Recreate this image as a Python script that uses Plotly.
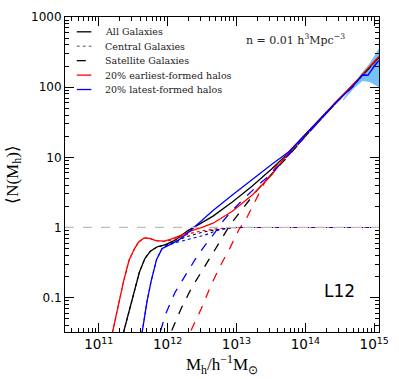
import plotly.graph_objects as go

# log10(M_h) sample points and <N(M_h)>
lgm_all = [11.36, 11.47, 11.59, 11.67, 11.75, 11.85, 11.97, 12.11, 12.3, 12.45, 12.66,
           12.94, 13.23, 13.51, 13.76, 14.0, 14.44, 14.77, 15.07]
n_all = [0.032, 0.08, 0.23, 0.36, 0.46, 0.53, 0.57, 0.66, 0.91, 1.1, 1.45,
         2.3, 3.9, 6.8, 11.6, 21, 60, 128, 265]

lgm_cen = [11.36, 11.47, 11.59, 11.67, 11.75, 11.85, 11.97, 12.11, 12.26, 12.4, 12.54,
           12.7, 12.83, 13.0, 15.07]
n_cen = [0.032, 0.08, 0.23, 0.36, 0.46, 0.53, 0.56, 0.63, 0.73, 0.8, 0.87,
         0.93, 0.97, 1.0, 1.0]

lgm_sat = [12.06, 12.2, 12.34, 12.49, 12.63, 12.77, 12.91, 13.06, 13.3, 13.54, 13.76,
           14.0, 14.44, 14.77, 15.07]
n_sat = [0.034, 0.071, 0.133, 0.23, 0.4, 0.65, 1.1, 1.7, 3.4, 6.2, 10.6,
         20, 59, 127, 264]

lgm_early = [11.2, 11.27, 11.36, 11.44, 11.52, 11.58, 11.66, 11.74, 11.83, 11.95, 12.05,
             12.2, 12.35, 12.5, 12.66, 12.94, 13.23, 13.51, 13.76, 14.0, 14.44, 14.77, 15.07]
n_early = [0.032, 0.07, 0.17, 0.34, 0.5, 0.62, 0.71, 0.70, 0.65, 0.64, 0.68,
           0.78, 0.9, 1.0, 1.15, 1.7, 2.9, 5.6, 11.8, 21, 61, 130, 275]

lgm_early_cen = [11.2, 11.27, 11.36, 11.44, 11.52, 11.58, 11.66, 11.74, 11.83, 11.95,
                 12.05, 12.2, 12.35, 12.5, 12.66, 12.85, 13.0, 15.07]
n_early_cen = [0.032, 0.07, 0.17, 0.34, 0.5, 0.62, 0.71, 0.70, 0.65, 0.63,
               0.66, 0.74, 0.83, 0.9, 0.95, 0.99, 1.0, 1.0]

lgm_early_sat = [12.34, 12.49, 12.63, 12.77, 12.91, 13.04, 13.13, 13.27, 13.41, 13.61,
                 13.76, 14.0, 14.44, 14.77, 15.07]
n_early_sat = [0.034, 0.07, 0.15, 0.29, 0.52, 0.95, 1.26, 2.37, 4.4, 8.3,
               10.8, 20, 60, 129, 274]

lgm_late = [11.63, 11.7, 11.76, 11.84, 11.92, 12.01, 12.16, 12.3, 12.44, 12.66, 12.94,
            13.23, 13.51, 13.76, 14.0, 14.44, 14.7, 14.83, 14.91, 15.0, 15.07]
n_late = [0.032, 0.087, 0.17, 0.35, 0.5, 0.56, 0.66, 0.85, 1.13, 1.75, 2.9,
          4.9, 7.9, 12.0, 21, 60, 105, 150, 148, 200, 240]

lgm_late_cen = [11.63, 11.7, 11.76, 11.84, 11.92, 11.97, 12.1, 12.26, 12.4, 12.54,
                12.73, 12.91, 15.07]
n_late_cen = [0.032, 0.087, 0.17, 0.35, 0.5, 0.54, 0.6, 0.66, 0.72, 0.78,
              0.91, 1.0, 1.0]

lgm_late_sat = [11.9, 11.97, 12.11, 12.26, 12.4, 12.54, 12.69, 12.76, 12.94, 13.13,
                13.37, 13.49, 13.76, 14.0, 14.44, 14.7, 14.83, 14.91, 15.0, 15.07]
n_late_sat = [0.034, 0.058, 0.12, 0.21, 0.35, 0.55, 0.85, 1.1, 1.75, 2.7,
              4.5, 5.6, 11.0, 20, 59, 104, 149, 147, 199, 239]

# scatter band of the latest-formed sample at the massive end
lgm_band = [14.55, 14.7, 14.83, 14.93, 15.07]
band_hi = [68, 110, 165, 215, 360]
band_lo = [64, 95, 122, 118, 100]

y_ticks = [0.1, 1, 10, 100, 1000]
y_labels = ["0.1", "1", "10", "100", "1000"]
x_ticks = [1e11, 1e12, 1e13, 1e14, 1e15]
x_labels = ["10<sup>11</sup>", "10<sup>12</sup>", "10<sup>13</sup>",
            "10<sup>14</sup>", "10<sup>15</sup>"]

legend_names = ["All Galaxies", "Central Galaxies", "Satellite Galaxies",
                "20% earliest-formed halos", "20% latest-formed halos"]
legend_colors = ["black", "#555", "black", "red", "blue"]
legend_dashes = ["solid", "dot", "dash", "solid", "solid"]


def mass(lg):
    return [10 ** v for v in lg]


fig = go.Figure()

fig.add_trace(go.Scatter(x=mass(lgm_band) + mass(lgm_band)[::-1],
                         y=band_hi + band_lo[::-1],
                         fill="toself", fillcolor="rgba(60,165,245,0.7)",
                         line=dict(width=0), mode="lines",
                         showlegend=False, hoverinfo="skip"))

fig.add_shape(type="line", xref="paper", x0=0, x1=1, yref="y", y0=1, y1=1,
              line=dict(color="#bdbdbd", width=1.3, dash="dash"))

series = [
    (lgm_all, n_all, "black", "solid"),
    (lgm_cen, n_cen, "black", "dot"),
    (lgm_sat, n_sat, "black", "dash"),
    (lgm_early, n_early, "red", "solid"),
    (lgm_early_cen, n_early_cen, "red", "dot"),
    (lgm_early_sat, n_early_sat, "red", "dash"),
    (lgm_late, n_late, "blue", "solid"),
    (lgm_late_cen, n_late_cen, "blue", "dot"),
    (lgm_late_sat, n_late_sat, "blue", "dash"),
]

for lg, n, col, dash in series:
    fig.add_trace(go.Scatter(x=mass(lg), y=n, mode="lines", showlegend=False,
                             line=dict(color=col, width=1.3 if dash != "dot" else 1.1,
                                       dash=dash)))

# hand-made legend (tighter row spacing than plotly's own legend allows)
for i, (name, col, dash) in enumerate(zip(legend_names, legend_colors, legend_dashes)):
    yy = 0.953 - i * 0.0458
    fig.add_shape(type="line", xref="paper", yref="paper", x0=0.0375, x1=0.084,
                  y0=yy, y1=yy, line=dict(color=col, width=1.3 if dash != "dot" else 1,
                                          dash=dash))
    fig.add_annotation(x=0.12, y=yy, xref="paper", yref="paper",
                       xanchor="left", yanchor="middle",
                       showarrow=False, text=name,
                       font=dict(family="DejaVu Serif", size=9.5, color="#222"))

axis_common = dict(
    showgrid=False, zeroline=False, showline=True, linecolor="black", linewidth=1,
    mirror="allticks", ticks="inside", ticklen=9, tickcolor="black",
    ticklabeloverflow="allow",
    minor=dict(ticks="inside", ticklen=4, tickcolor="black", dtick="D1", showgrid=False),
)

fig.update_xaxes(type="log", range=[10.51, 15.07], tickmode="array",
                 tickvals=x_ticks, ticktext=x_labels,
                 tickfont=dict(family="DejaVu Sans", size=13.5, color="black"),
                 title=dict(text="M<sub>h</sub>/h<sup>−1</sup>M<sub>⊙</sub>",
                            font=dict(family="Liberation Serif", size=17, color="black"),
                            standoff=4),
                 **axis_common)
fig.update_yaxes(type="log", range=[-1.49, 3.0], tickmode="array",
                 tickvals=y_ticks, ticktext=y_labels,
                 tickfont=dict(family="DejaVu Sans", size=12, color="black"),
                 title=dict(text="⟨N(M<sub>h</sub>)⟩",
                            font=dict(family="Liberation Serif", size=17, color="black"),
                            standoff=8),
                 **axis_common)

fig.add_annotation(x=0.734, y=0.929, xref="paper", yref="paper", showarrow=False,
                   xanchor="center", yanchor="middle",
                   text="n = 0.01 h<sup>3</sup>Mpc<sup>−3</sup>",
                   font=dict(family="DejaVu Serif", size=11, color="#222"))
fig.add_annotation(x=0.875, y=0.13, xref="paper", yref="paper", showarrow=False,
                   xanchor="center", yanchor="middle",
                   text="L12", font=dict(family="DejaVu Sans", size=17, color="black"))

fig.update_layout(
    width=399, height=379,
    margin=dict(l=65, r=14, t=10, b=47),
    paper_bgcolor="white", plot_bgcolor="white",
    showlegend=False,
)

fig.write_html("out.html", config={"displayModeBar": False},
               post_script="document.body.style.margin='0';")
